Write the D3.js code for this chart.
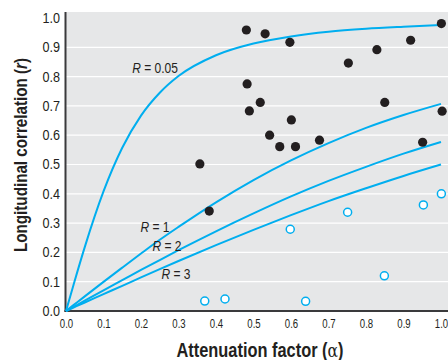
<!DOCTYPE html>
<html><head><meta charset="utf-8">
<script src="https://cdn.jsdelivr.net/npm/d3@7"></script>
<style>
html,body{margin:0;padding:0;background:#fff;}
svg{display:block;}
text{font-family:"Liberation Sans",sans-serif;}
</style></head><body>
<svg id="c" width="448" height="360"></svg>
<script>
// Data
const alphaSamples = [0, 0.02, 0.05, 0.1, 0.15, 0.2, 0.25, 0.3, 0.4, 0.5, 0.6, 0.7, 0.8, 0.9, 1.0];
const curveR005 = [0, 0.089, 0.218, 0.408, 0.557, 0.667, 0.745, 0.802, 0.873, 0.913, 0.937, 0.953, 0.963, 0.970, 0.976];
const curveR1   = [0, 0.020, 0.050, 0.0995, 0.148, 0.196, 0.243, 0.287, 0.371, 0.447, 0.514, 0.573, 0.625, 0.669, 0.707];
const curveR2   = [0, 0.014, 0.035, 0.0705, 0.105, 0.140, 0.174, 0.2075, 0.272, 0.333, 0.391, 0.444, 0.492, 0.537, 0.577];
const curveR3   = [0, 0.012, 0.029, 0.0576, 0.086, 0.1147, 0.143, 0.1707, 0.225, 0.277, 0.327, 0.375, 0.419, 0.461, 0.500];
const curveLabels = ["R = 0.05", "R = 1", "R = 2", "R = 3"];

const filledX = [0.357, 0.382, 0.481, 0.531, 0.597, 0.753, 0.829, 0.919, 1.001, 0.483, 0.518, 0.489, 0.601, 0.543, 0.570, 0.612, 0.676, 0.850, 1.003, 0.951];
const filledY = [0.502, 0.341, 0.959, 0.946, 0.917, 0.846, 0.892, 0.924, 0.981, 0.775, 0.712, 0.683, 0.652, 0.600, 0.561, 0.561, 0.583, 0.712, 0.682, 0.576];
const openX = [0.370, 0.424, 0.639, 0.598, 0.751, 0.849, 0.953, 1.001];
const openY = [0.034, 0.041, 0.033, 0.279, 0.337, 0.120, 0.362, 0.400];

const xTicks = [0, 0.1, 0.2, 0.3, 0.4, 0.5, 0.6, 0.7, 0.8, 0.9, 1.0];
const yTicks = [0, 0.1, 0.2, 0.3, 0.4, 0.5, 0.6, 0.7, 0.8, 0.9, 1.0];

const svg = d3.select("#c");
const pLeft = 66, pTop = 12, pRight = 448, pBottom = 311;
const x = d3.scaleLinear().domain([0, 1.0]).range([pLeft, 441]);
const y = d3.scaleLinear().domain([0, 1.0]).range([pBottom, 18]);

const blue = "#00aeef";
const ink = "#231f20";

function condense(sel, f) {
  sel.each(function () {
    const w = this.getComputedTextLength();
    d3.select(this).attr("textLength", w * f).attr("lengthAdjust", "spacingAndGlyphs");
  });
}

svg.append("rect").attr("x", pLeft).attr("y", pTop).attr("width", pRight - pLeft).attr("height", pBottom - pTop).attr("fill", "#e6e7e8");

// gridlines
svg.append("g").selectAll("line").data(yTicks.filter(d => d > 0 && d < 1)).join("line")
  .attr("x1", pLeft).attr("x2", pRight).attr("y1", d => y(d)).attr("y2", d => y(d))
  .attr("stroke", "#fff").attr("stroke-width", 1.2);

// y axis
const yAxis = svg.append("g").attr("transform", `translate(${pLeft},0)`)
  .call(d3.axisLeft(y).tickValues(yTicks).tickFormat(d3.format(".1f")).tickSize(0).tickPadding(6));
yAxis.select(".domain").remove();
yAxis.selectAll("text").attr("font-size", 14).attr("fill", ink)
  .attr("font-family", '"Liberation Sans",sans-serif');
condense(yAxis.selectAll("text"), 0.9);

// x axis
const xAxis = svg.append("g").attr("transform", `translate(0,${pBottom})`)
  .call(d3.axisBottom(x).tickValues(xTicks).tickFormat(d3.format(".1f")).tickSize(0).tickPadding(8));
xAxis.select(".domain").remove();
xAxis.selectAll("text").attr("font-size", 12).attr("fill", ink)
  .attr("font-family", '"Liberation Sans",sans-serif');
condense(xAxis.selectAll("text"), 0.8);

// axis lines
svg.append("line").attr("x1", pLeft - 0.5).attr("x2", pLeft - 0.5).attr("y1", pTop).attr("y2", pBottom + 1)
  .attr("stroke", "#3a3a3c").attr("stroke-width", 2);
svg.append("line").attr("x1", pLeft - 1.5).attr("x2", pRight).attr("y1", pBottom).attr("y2", pBottom)
  .attr("stroke", "#3a3a3c").attr("stroke-width", 2);

// curves
const curves = [curveR005, curveR1, curveR2, curveR3];
const line = d3.line().x((d, i) => x(alphaSamples[i])).y(d => y(d)).curve(d3.curveMonotoneX);
svg.append("g").selectAll("path").data(curves).join("path")
  .attr("d", line).attr("fill", "none").attr("stroke", blue).attr("stroke-width", 2);

// curve labels
const labelPos = [[155, 68], [155, 227], [167, 246], [176, 274]];
curveLabels.forEach((lab, i) => {
  const parts = lab.split(" = ");
  const t = svg.append("text")
    .attr("transform", `translate(${labelPos[i][0]},${labelPos[i][1]}) scale(0.8,1)`)
    .attr("dy", "0.35em").attr("text-anchor", "middle").attr("font-size", 15).attr("fill", ink);
  t.append("tspan").attr("font-style", "italic").text(parts[0]);
  t.append("tspan").text(" = " + parts[1]);
});

// points
svg.append("g").selectAll("circle").data(filledX).join("circle")
  .attr("cx", d => x(d)).attr("cy", (d, i) => y(filledY[i])).attr("r", 4.6).attr("fill", ink);
svg.append("g").selectAll("circle").data(openX).join("circle")
  .attr("cx", d => x(d)).attr("cy", (d, i) => y(openY[i])).attr("r", 4).attr("fill", "#fff")
  .attr("stroke", blue).attr("stroke-width", 1.5);

// axis titles
const xt = svg.append("text").attr("transform", "translate(260,350) scale(0.82,1)")
  .attr("dy", "0.35em").attr("text-anchor", "middle")
  .attr("font-size", 20).attr("font-weight", "bold").attr("fill", ink);
xt.append("tspan").text("Attenuation factor (");
xt.append("tspan").attr("font-weight", "normal").attr("font-family", '"DejaVu Serif",serif').attr("font-size", 19).text("α");
xt.append("tspan").text(")");

const yt = svg.append("text").attr("transform", "translate(20,155) rotate(-90) scale(0.8,1)").attr("dy", "0.35em")
  .attr("text-anchor", "middle").attr("font-size", 19).attr("font-weight", "bold").attr("fill", ink);
yt.append("tspan").text("Longitudinal correlation (");
yt.append("tspan").attr("font-style", "italic").text("r");
yt.append("tspan").text(")");
</script>
</body></html>
